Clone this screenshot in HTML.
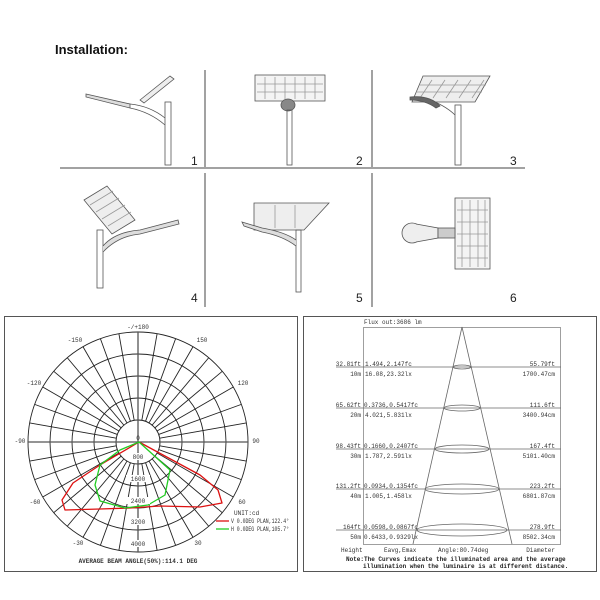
<!DOCTYPE html>
<html><head><meta charset="utf-8"><style>
html,body{margin:0;padding:0;background:#fff;}
svg{display:block;}
.m{font-family:"Liberation Mono",monospace;font-size:6px;fill:#333;}
.s{font-family:"Liberation Sans",sans-serif;}
</style></head><body>
<svg width="600" height="600" viewBox="0 0 600 600" xmlns="http://www.w3.org/2000/svg">
<rect width="600" height="600" fill="#fff"/>
<text x="55" y="54" class="s" font-size="13" font-weight="bold" fill="#111">Installation:</text>
<g stroke="#444" stroke-width="1">
<line x1="60" y1="168" x2="525" y2="168"/>
<line x1="205" y1="70" x2="205" y2="167"/>
<line x1="205" y1="173" x2="205" y2="307"/>
<line x1="372" y1="70" x2="372" y2="167"/>
<line x1="372" y1="173" x2="372" y2="307"/>
</g>
<g class="s" font-size="12" fill="#222">
<text x="191" y="165">1</text><text x="356" y="165">2</text><text x="510" y="165">3</text>
<text x="191" y="302">4</text><text x="356" y="302">5</text><text x="510" y="302">6</text>
</g>
<g fill="none" stroke="#555" stroke-width="0.8">
<rect x="165" y="102" width="6" height="63"/>
<path d="M165 118 Q150 106 130 104 M165 125 Q150 112 130 108"/>
<path d="M86 94 L130 104 L130 108 L86 97 Z" fill="#ddd"/>
<path d="M140 100 L170 76 L174 79 L144 103 Z" fill="#eee"/>
<rect x="255" y="75" width="70" height="26" fill="#f4f4f4"/>
<path d="M265 77 V99 M275 77 V99 M285 77 V99 M295 77 V99 M305 77 V99 M315 77 V99 M257 84 H323 M257 92 H323" stroke="#999"/>
<ellipse cx="288" cy="105" rx="7" ry="6" fill="#888"/>
<rect x="287" y="110" width="5" height="55"/>
<path d="M423 76 L490 76 L475 102 L412 102 Z" fill="#eee"/>
<path d="M432 80 L420 98 M445 80 L433 98 M458 80 L446 98 M471 80 L459 98 M484 80 L472 98 M420 85 H486 M416 92 H482" stroke="#999"/>
<rect x="455" y="105" width="6" height="60"/>
<path d="M455 115 Q445 105 425 98" />
<path d="M410 97 Q430 95 440 106 L436 108 Q425 100 410 100Z" fill="#666"/>
<path d="M84 200 L107 186 L135 220 L112 234 Z" fill="#eee"/>
<path d="M90 205 L113 191 M96 212 L119 198 M102 219 L125 205 M108 226 L131 212" stroke="#999"/>
<rect x="97" y="230" width="6" height="58"/>
<path d="M103 246 Q115 232 140 230 L178 220 L179 224 L140 234 Q118 236 103 252" fill="#ddd"/>
<path d="M254 203 L329 203 L304 230 L254 230 Z" fill="#eee"/>
<path d="M275 205 V228 M295 205 V228" stroke="#999"/>
<rect x="296" y="230" width="5" height="62"/>
<path d="M296 240 Q285 232 262 228 L242 222 L244 226 L262 232 Q283 236 296 246" fill="#ddd"/>
<rect x="455" y="198" width="35" height="71" fill="#f4f4f4"/>
<path d="M462 200 V267 M470 200 V267 M478 200 V267 M485 200 V267 M457 210 H488 M457 222 H488 M457 234 H488 M457 246 H488 M457 258 H488" stroke="#999"/>
<ellipse cx="412" cy="233" rx="10" ry="10" fill="#eee"/>
<path d="M416 224 L438 228 L438 238 L416 242" fill="#eee"/>
<rect x="438" y="228" width="17" height="10" fill="#ccc"/>
</g>

<rect x="4.5" y="316.5" width="293" height="255" fill="none" stroke="#555" stroke-width="1"/>
<g stroke="#222" stroke-width="0.9" fill="none">
<circle cx="138" cy="442" r="22"/><circle cx="138" cy="442" r="44"/><circle cx="138" cy="442" r="66"/><circle cx="138" cy="442" r="88"/><circle cx="138" cy="442" r="110"/>
<g id="rad">
<line x1="138" y1="420" x2="138" y2="332" transform="rotate(10 138 442)"/>
<line x1="138" y1="420" x2="138" y2="332" transform="rotate(20 138 442)"/>
<line x1="138" y1="420" x2="138" y2="332" transform="rotate(30 138 442)"/>
<line x1="138" y1="420" x2="138" y2="332" transform="rotate(40 138 442)"/>
<line x1="138" y1="420" x2="138" y2="332" transform="rotate(50 138 442)"/>
<line x1="138" y1="420" x2="138" y2="332" transform="rotate(60 138 442)"/>
<line x1="138" y1="420" x2="138" y2="332" transform="rotate(70 138 442)"/>
<line x1="138" y1="420" x2="138" y2="332" transform="rotate(80 138 442)"/>
</g>
<use href="#rad" transform="rotate(90 138 442)"/>
<use href="#rad" transform="rotate(180 138 442)"/>
<use href="#rad" transform="rotate(270 138 442)"/>
<line x1="138" y1="332" x2="138" y2="552" stroke-width="1.3" stroke="#555"/>
<line x1="28" y1="442" x2="248" y2="442" stroke-width="1.3" stroke="#555"/>
</g>
<path d="M139 442 L100 465 L73 483 L62 500 L65 510 L100 509 L130 508 L160 506 L200 507 L222 503 L218 490 L200 475 Z" fill="none" stroke="#d11" stroke-width="1.3" stroke-linejoin="round"/>
<path d="M139 442 L170 470 L165 495 L148 505 L125 508 L100 501 L95 485 L100 465 L120 450 Z" fill="none" stroke="#2c2" stroke-width="1.3" stroke-linejoin="round"/>
<g class="m" text-anchor="middle" fill="#222">
<rect x="128" y="453" width="20" height="7" fill="#fff"/>
<rect x="126" y="475" width="24" height="7" fill="#fff"/>
<rect x="126" y="497" width="24" height="7" fill="#fff"/>
<rect x="126" y="518" width="24" height="7" fill="#fff"/>
<rect x="126" y="540" width="24" height="7" fill="#fff"/>
<text x="138" y="329">-/+180</text>
<text x="138" y="440">0</text>
<text x="138" y="459">800</text><text x="138" y="481">1600</text><text x="138" y="503">2400</text><text x="138" y="524">3200</text><text x="138" y="546">4000</text>
<text x="75" y="342">-150</text><text x="202" y="342">150</text>
<text x="34" y="385">-120</text><text x="243" y="385">120</text>
<text x="20" y="443">-90</text><text x="256" y="443">90</text>
<text x="35" y="504">-60</text><text x="242" y="504">60</text>
<text x="78" y="545">-30</text><text x="198" y="545">30</text>
<text x="138" y="563" font-weight="bold">AVERAGE BEAM ANGLE(50%):114.1 DEG</text>
</g>
<g class="m" fill="#222" font-size="5">
<text x="234" y="515">UNIT:cd</text>
<line x1="216" y1="521" x2="229" y2="521" stroke="#d11" stroke-width="1.3"/>
<text x="231" y="523" textLength="58" lengthAdjust="spacingAndGlyphs">V 0.0DEG PLAN,122.4°</text>
<line x1="216" y1="529" x2="229" y2="529" stroke="#2c2" stroke-width="1.3"/>
<text x="231" y="531" textLength="58" lengthAdjust="spacingAndGlyphs">H 0.0DEG PLAN,105.7°</text>
</g>

<rect x="303.5" y="316.5" width="293" height="255" fill="none" stroke="#555" stroke-width="1"/>
<rect x="363.5" y="327.5" width="197" height="217" fill="none" stroke="#888" stroke-width="0.8"/>
<g stroke="#666" stroke-width="0.8" fill="none">
<line x1="462" y1="327" x2="413" y2="544"/><line x1="462" y1="327" x2="512" y2="544"/>
<line x1="336" y1="367" x2="561" y2="367"/><line x1="336" y1="408" x2="561" y2="408"/><line x1="336" y1="449" x2="561" y2="449"/><line x1="336" y1="489" x2="561" y2="489"/><line x1="336" y1="530" x2="561" y2="530"/>
<ellipse cx="462" cy="367" rx="9" ry="2"/>
<ellipse cx="462" cy="408" rx="18" ry="3"/>
<ellipse cx="462" cy="449" rx="27" ry="4"/>
<ellipse cx="462" cy="489" rx="37" ry="5"/>
<ellipse cx="462" cy="530" rx="45" ry="6"/>
</g>
<g class="m">
<text x="364" y="324">Flux out:3686 lm</text>
<g text-anchor="end">
<text x="361" y="366">32.81ft</text><text x="361" y="376">10m</text>
<text x="361" y="407">65.62ft</text><text x="361" y="417">20m</text>
<text x="361" y="448">98.43ft</text><text x="361" y="458">30m</text>
<text x="361" y="488">131.2ft</text><text x="361" y="498">40m</text>
<text x="361" y="529">164ft</text><text x="361" y="539">50m</text>
<text x="555" y="366">55.79ft</text><text x="555" y="376">1700.47cm</text>
<text x="555" y="407">111.6ft</text><text x="555" y="417">3400.94cm</text>
<text x="555" y="448">167.4ft</text><text x="555" y="458">5101.40cm</text>
<text x="555" y="488">223.2ft</text><text x="555" y="498">6801.87cm</text>
<text x="555" y="529">278.9ft</text><text x="555" y="539">8502.34cm</text>
<text x="555" y="552">Diameter</text>
</g>
<text x="365" y="366">1.494,2.147fc</text><text x="365" y="376">16.08,23.32lx</text>
<text x="364" y="407">0.3736,0.5417fc</text><text x="365" y="417">4.021,5.831lx</text>
<text x="364" y="448">0.1660,0.2407fc</text><text x="365" y="458">1.787,2.591lx</text>
<text x="364" y="488">0.0934,0.1354fc</text><text x="365" y="498">1.005,1.458lx</text>
<text x="364" y="529">0.0598,0.0867fc</text><text x="364" y="539">0.6433,0.9329lx</text>
<text x="341" y="552">Height</text><text x="384" y="552">Eavg,Emax</text><text x="438" y="552">Angle:80.74deg</text>
<g font-weight="bold" fill="#222">
<text x="346" y="561">Note:The Curves indicate the illuminated area and the average</text>
<text x="363" y="568">illumination when the luminaire is at different distance.</text>
</g>
</g>
</svg>
</body></html>
